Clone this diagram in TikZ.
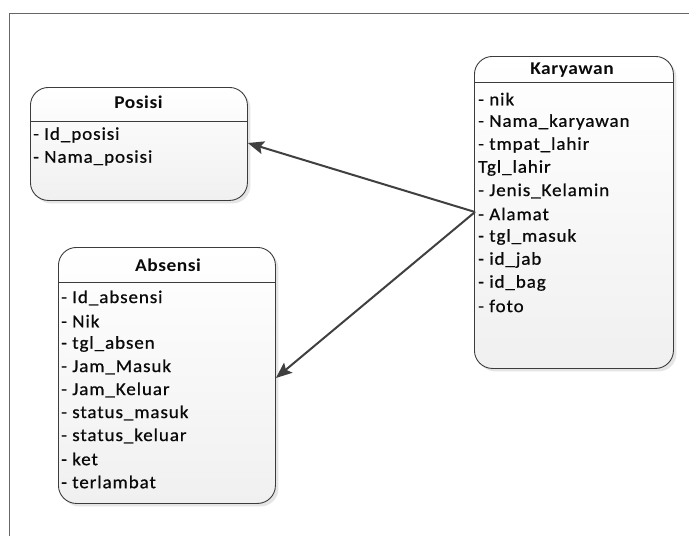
\documentclass[tikz,border=0pt]{standalone}
\usepackage{fontspec}
\setmainfont{Carlito}
\newfontfamily\itemfont{Carlito}[FakeStretch=1.06,LetterSpace=5,FakeBold=0.7]
\newfontfamily\titlefont{Carlito}[FakeStretch=1.08,LetterSpace=3]
\usetikzlibrary{arrows.meta,shadows}
\definecolor{boxline}{HTML}{3C3C3C}
\definecolor{boxfill}{HTML}{F0F0F0}
\definecolor{framec}{HTML}{666666}
\definecolor{arrowc}{HTML}{404040}
\definecolor{textc}{HTML}{0A0A0A}
\tikzset{
  entity/.style={draw=boxline, line width=0.9pt, rounded corners=18pt,
    top color=white, bottom color=boxfill, anchor=north west, inner sep=0pt,
    drop shadow={shadow xshift=3pt, shadow yshift=-3pt, fill=black!10, opacity=1}},
  sepline/.style={draw=boxline, line width=0.8pt},
  etitle/.style={inner sep=0pt, font=\titlefont\bfseries\fontsize{18}{21}\selectfont, text=textc},
  attr/.style={anchor=west, inner sep=0pt, font=\itemfont\fontsize{18}{21}\selectfont, text=textc},
  conn/.style={draw=arrowc, line width=2pt, -{Stealth[length=16pt,width=13pt,inset=3pt]}}
}
\begin{document}
\begin{tikzpicture}[x=1pt,y=-1pt]
\useasboundingbox (0,0) rectangle (689,536);
\fill[white] (0,0) rectangle (689,536);
\draw[framec, line width=1pt] (9,536) -- (9,13) -- (689,13);

% boxes
\node[entity, minimum width=217pt, minimum height=113pt] (posisi) at (30,87) {};
\node[entity, minimum width=217pt, minimum height=256pt] (absensi) at (58,247) {};
\node[entity, minimum width=199pt, minimum height=312pt] (karyawan) at (474,56) {};

% header separators
\coordinate (ph) at (0,121);
\coordinate (ah) at (0,282);
\coordinate (kh) at (0,82);
\draw[sepline] (posisi.west |- ph) -- (posisi.east |- ph);
\draw[sepline] (absensi.west |- ah) -- (absensi.east |- ah);
\draw[sepline] (karyawan.west |- kh) -- (karyawan.east |- kh);

% titles
\node[etitle] (tposisi) at (138.5,102) {Posisi};
\node[etitle] (tabsensi) at (168,265) {Absensi};
\node[etitle] (tkaryawan) at (572,70) {Karyawan};

% Posisi attributes
\node[attr] (p1) at (33,135) {- Id\_posisi};
\node[attr] (p2) at (33,158) {- Nama\_posisi};

% Absensi attributes
\node[attr] (a1) at (61,298) {- Id\_absensi};
\node[attr] (a2) at (61,321) {- Nik};
\node[attr] (a3) at (61,344) {- tgl\_absen};
\node[attr] (a4) at (61,367) {- Jam\_Masuk};
\node[attr] (a5) at (61,390) {- Jam\_Keluar};
\node[attr] (a6) at (61,413) {- status\_masuk};
\node[attr] (a7) at (61,436) {- status\_keluar};
\node[attr] (a8) at (61,459) {- ket};
\node[attr] (a9) at (61,482) {- terlambat};

% Karyawan attributes
\node[attr] (k1) at (478,99) {- nik};
\node[attr] (k2) at (478,122) {- Nama\_karyawan};
\node[attr] (k3) at (478,145) {- tmpat\_lahir};
\node[attr] (k4) at (478,168) {Tgl\_lahir};
\node[attr] (k5) at (478,191) {- Jenis\_Kelamin};
\node[attr] (k6) at (478,214) {- Alamat};
\node[attr] (k7) at (478,237) {- tgl\_masuk};
\node[attr] (k8) at (478,260) {- id\_jab};
\node[attr] (k9) at (478,283) {- id\_bag};
\node[attr] (k10) at (478,306) {- foto};

% connectors
\coordinate (src) at (475,212);
\coordinate (pa) at (0,143);
\coordinate (aa) at (0,378);
\draw[conn] (src) -- (posisi.east |- pa);
\draw[conn] (src) -- (absensi.east |- aa);
\end{tikzpicture}
\end{document}
